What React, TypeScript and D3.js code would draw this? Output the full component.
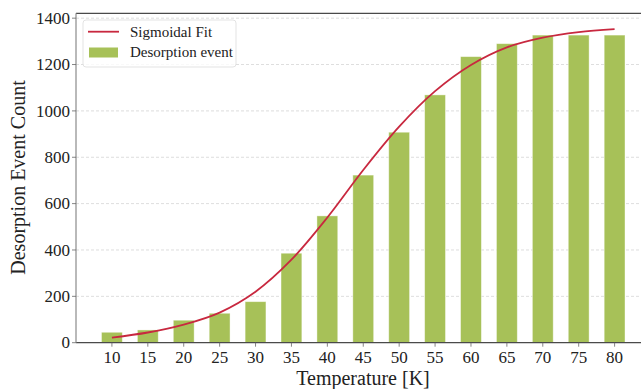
import React, { useEffect, useRef } from 'react';
import * as d3 from 'd3';

const temperatures = [10, 15, 20, 25, 30, 35, 40, 45, 50, 55, 60, 65, 70, 75, 80];
const eventCounts = [45, 55, 97, 127, 177, 386, 547, 723, 908, 1069, 1234, 1290, 1327, 1327, 1327];
const fitCounts = [22, 44, 78, 130, 220, 358, 540, 745, 932, 1085, 1198, 1274, 1316, 1340, 1353];
const yTicks = [0, 200, 400, 600, 800, 1000, 1200, 1400];

const BAR_COLOR = '#a7c158';
const FIT_COLOR = '#c8283f';
const FONT = '"Liberation Serif", "DejaVu Serif", serif';

export default function App() {
  const svgRef = useRef<SVGSVGElement>(null);

  useEffect(() => {
    if (!svgRef.current) return;
    const width = 641;
    const height = 389;

    d3.select(svgRef.current).selectAll('*').remove();
    const svg = d3.select(svgRef.current)
      .attr('width', width)
      .attr('height', height);

    // Scales (right side of the figure is cropped)
    const x = d3.scaleLinear().domain([5, 85]).range([76, 650.5]);
    const y = d3.scaleLinear().domain([0, 1421]).range([342.7, 13.3]);
    const barW = x(7.9) - x(5);

    // Grid
    svg.append('g')
      .selectAll('line')
      .data(yTicks.filter(d => d > 0))
      .enter()
      .append('line')
      .attr('x1', x(5))
      .attr('x2', width)
      .attr('y1', d => y(d))
      .attr('y2', d => y(d))
      .attr('stroke', '#d4d4d4')
      .attr('stroke-width', 0.8)
      .attr('stroke-dasharray', '3,2');

    // Bars
    svg.append('g')
      .selectAll('rect')
      .data(temperatures)
      .enter()
      .append('rect')
      .attr('x', d => x(d) - barW / 2)
      .attr('width', barW)
      .attr('y', (d, i) => y(eventCounts[i]))
      .attr('height', (d, i) => y(0) - y(eventCounts[i]))
      .attr('fill', BAR_COLOR)
      .attr('stroke', 'rgba(255,255,255,0.5)')
      .attr('stroke-width', 0.8);

    // Sigmoidal fit
    const line = d3.line<number>()
      .x(d => x(d))
      .y((d, i) => y(fitCounts[i]))
      .curve(d3.curveCatmullRom.alpha(0.5));

    svg.append('path')
      .datum(temperatures)
      .attr('d', line)
      .attr('fill', 'none')
      .attr('stroke', FIT_COLOR)
      .attr('stroke-width', 1.8);

    // Spines
    svg.append('line')
      .attr('x1', x(5)).attr('x2', width)
      .attr('y1', y(1421)).attr('y2', y(1421))
      .attr('stroke', '#4a4a4a').attr('stroke-width', 1.2);
    svg.append('line')
      .attr('x1', x(5)).attr('x2', width)
      .attr('y1', y(0)).attr('y2', y(0))
      .attr('stroke', '#4a4a4a').attr('stroke-width', 1.2);
    svg.append('line')
      .attr('x1', x(5)).attr('x2', x(5))
      .attr('y1', y(1421)).attr('y2', y(0))
      .attr('stroke', '#8a8a8a').attr('stroke-width', 1.2);

    // Y ticks
    const yAxis = svg.append('g');
    yTicks.forEach(t => {
      yAxis.append('line')
        .attr('x1', x(5) - 4).attr('x2', x(5))
        .attr('y1', y(t)).attr('y2', y(t))
        .attr('stroke', '#666').attr('stroke-width', 0.8);
      yAxis.append('text')
        .attr('x', x(5) - 6)
        .attr('y', y(t))
        .attr('dy', '0.34em')
        .attr('text-anchor', 'end')
        .attr('font-family', FONT)
        .attr('font-size', 17)
        .attr('fill', '#222')
        .text(t);
    });

    // X ticks
    const xAxis = svg.append('g');
    temperatures.forEach(t => {
      xAxis.append('line')
        .attr('x1', x(t)).attr('x2', x(t))
        .attr('y1', y(0)).attr('y2', y(0) + 4)
        .attr('stroke', '#666').attr('stroke-width', 0.8);
      xAxis.append('text')
        .attr('x', x(t))
        .attr('y', 362.5)
        .attr('text-anchor', 'middle')
        .attr('font-family', FONT)
        .attr('font-size', 17)
        .attr('fill', '#222')
        .text(t);
    });

    // Axis labels
    svg.append('text')
      .attr('x', 363)
      .attr('y', 384.5)
      .attr('text-anchor', 'middle')
      .attr('font-family', FONT)
      .attr('font-size', 20)
      .attr('fill', '#222')
      .text('Temperature [K]');

    svg.append('text')
      .attr('transform', 'rotate(-90)')
      .attr('x', -177.5)
      .attr('y', 25)
      .attr('text-anchor', 'middle')
      .attr('font-family', FONT)
      .attr('font-size', 20)
      .attr('fill', '#222')
      .text('Desorption Event Count');

    // Legend
    const legend = svg.append('g');
    legend.append('rect')
      .attr('x', 83).attr('y', 20)
      .attr('width', 153).attr('height', 47)
      .attr('rx', 3)
      .attr('fill', 'rgba(255,255,255,0.8)')
      .attr('stroke', '#dcdcdc')
      .attr('stroke-width', 0.8);
    legend.append('line')
      .attr('x1', 88).attr('x2', 119)
      .attr('y1', 31.7).attr('y2', 31.7)
      .attr('stroke', FIT_COLOR).attr('stroke-width', 1.8);
    legend.append('rect')
      .attr('x', 89).attr('y', 47.5)
      .attr('width', 29).attr('height', 10)
      .attr('fill', BAR_COLOR);
    legend.append('text')
      .attr('x', 130).attr('y', 37)
      .attr('font-family', FONT).attr('font-size', 15).attr('fill', '#222')
      .text('Sigmoidal Fit');
    legend.append('text')
      .attr('x', 130).attr('y', 57.3)
      .attr('font-family', FONT).attr('font-size', 15).attr('fill', '#222')
      .text('Desorption event');
  }, []);

  return (
    <svg
      ref={svgRef}
      style={{ position: 'fixed', left: 0, top: 0, background: '#fff' }}
    />
  );
}
